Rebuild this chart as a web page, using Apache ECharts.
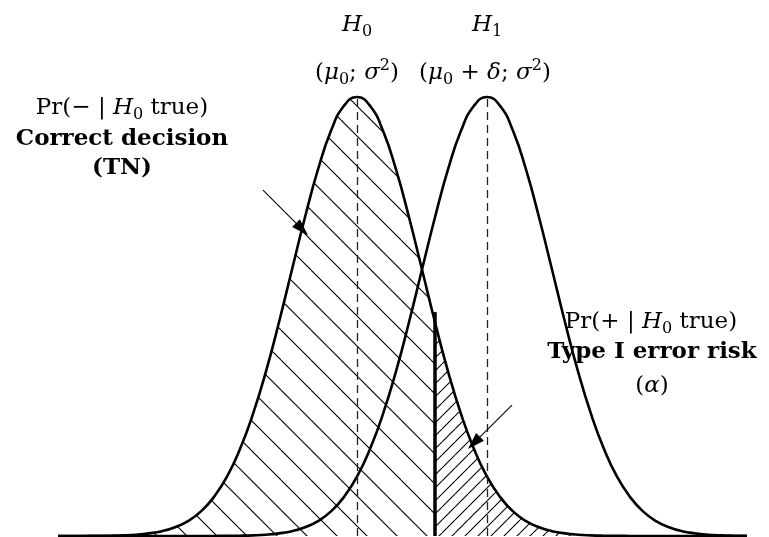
<!DOCTYPE html>
<html>
<head>
<meta charset="utf-8">
<script src="https://cdn.jsdelivr.net/npm/echarts/dist/echarts.min.js"></script>
<style>
  html, body { margin: 0; padding: 0; background: #fff; }
  #chart { width: 769px; height: 537px; }
</style>
</head>
<body>
<div id="chart"></div>
<script>
// x in units of sigma, measured from mu0
const xValues = [-4.6, -4.4, -4.2, -4.0, -3.8, -3.6, -3.4, -3.2, -3.0, -2.8, -2.6, -2.4, -2.2, -2.0, -1.8, -1.6, -1.4, -1.2, -1.0, -0.8, -0.6, -0.4, -0.2,
  0, 0.2, 0.4, 0.6, 0.8, 1.0, 1.2, 1.4, 1.6, 1.8, 2.0, 2.2, 2.4, 2.6, 2.8, 3.0, 3.2, 3.4, 3.6, 3.8, 4.0, 4.2, 4.4, 4.6, 4.8, 5.0, 5.2, 5.4, 5.6, 5.8, 6.0]
// curve heights relative to the peak
const h0Density = [0, 0, 0.0001, 0.0003, 0.0007, 0.0015, 0.003, 0.006, 0.011, 0.020, 0.034, 0.056, 0.089, 0.135, 0.198, 0.278, 0.375, 0.487, 0.607, 0.726, 0.835, 0.923, 0.980,
  1, 0.980, 0.923, 0.835, 0.726, 0.607, 0.487, 0.375, 0.278, 0.198, 0.135, 0.089, 0.056, 0.034, 0.020, 0.011, 0.006, 0.003, 0.0015, 0.0007, 0.0003, 0.0001,
  0, 0, 0, 0, 0, 0, 0, 0, 0]
const h1Density = [0, 0, 0, 0, 0, 0, 0, 0, 0, 0, 0, 0,
  0.0001, 0.0003, 0.0007, 0.0015, 0.003, 0.006, 0.011, 0.020, 0.034, 0.056, 0.089, 0.135, 0.198, 0.278, 0.375, 0.487, 0.607, 0.726, 0.835, 0.923, 0.980,
  1, 0.980, 0.923, 0.835, 0.726, 0.607, 0.487, 0.375, 0.278, 0.198, 0.135, 0.089, 0.056, 0.034, 0.020, 0.011, 0.006, 0.003, 0.0015, 0.0007, 0.0003]
const means = [0, 2] // H0, H1
const thresholdX = 1.2
const thresholdTop = 0.51

const h0Points = xValues.map((x, i) => [x, h0Density[i]])
const h1Points = xValues.map((x, i) => [x, h1Density[i]])
const h0Left = h0Points.filter(p => p[0] <= thresholdX + 1e-9)
const h0Right = h0Points.filter(p => p[0] >= thresholdX - 1e-9)

// hatch tiles
function hatch(size, dir, off) {
  const c = document.createElement('canvas')
  c.width = size
  c.height = size
  const g = c.getContext('2d')
  g.strokeStyle = '#000'
  g.lineWidth = 1.1
  g.beginPath()
  for (let k = -2; k <= 2; k++) {
    const x0 = k * size + off
    if (dir === 'back') {
      g.moveTo(x0, 0)
      g.lineTo(x0 + size, size)
    } else {
      g.moveTo(x0, size)
      g.lineTo(x0 + size, 0)
    }
  }
  g.stroke()
  return c
}

const chart = echarts.init(document.getElementById('chart'))
const black = '#000'
const serif = '"DejaVu Serif", "Liberation Serif", serif'

function txt(x, y, text) {
  return {
    type: 'text',
    x: x,
    y: y,
    style: {
      text: text,
      rich: rich,
      fill: black,
      align: 'center',
      verticalAlign: 'middle',
      textAlign: 'center',
      textVerticalAlign: 'middle'
    }
  }
}
const rich = {
  n: { fontFamily: serif, fontSize: 23, lineHeight: 30, color: black },
  i: { fontFamily: serif, fontSize: 23, lineHeight: 30, fontStyle: 'italic', color: black },
  b: { fontFamily: serif, fontSize: 23, lineHeight: 30, fontWeight: 'bold', color: black },
  sub: { fontFamily: serif, fontSize: 16, verticalAlign: 'bottom', color: black },
  sup: { fontFamily: serif, fontSize: 16, verticalAlign: 'top', color: black }
}

chart.setOption({
  animation: false,
  grid: { left: 58, right: 22, top: 97, bottom: 1 },
  xAxis: { type: 'value', min: -4.6, max: 6, show: false },
  yAxis: { type: 'value', min: 0, max: 1, show: false },
  series: [
    {
      type: 'line',
      data: h0Left,
      smooth: true,
      symbol: 'none',
      lineStyle: { width: 0 },
      areaStyle: { color: { image: hatch(30, 'back', 11), repeat: 'repeat' }, opacity: 1 },
      z: 1
    },
    {
      type: 'line',
      data: h0Right,
      smooth: true,
      symbol: 'none',
      lineStyle: { width: 0 },
      areaStyle: { color: { image: hatch(13, 'fwd', 0), repeat: 'repeat' }, opacity: 1 },
      z: 1
    },
    {
      name: 'H0',
      type: 'line',
      data: h0Points,
      smooth: true,
      symbol: 'none',
      clip: false,
      lineStyle: { color: black, width: 2.6 },
      z: 3,
      markLine: {
        silent: true,
        symbol: 'none',
        label: { show: false },
        lineStyle: { color: '#222', width: 1.3, type: [8, 5] },
        data: [
          [{ coord: [means[0], 0] }, { coord: [means[0], 1] }],
          [{ coord: [means[1], 0] }, { coord: [means[1], 1] }]
        ]
      }
    },
    {
      name: 'H1',
      type: 'line',
      data: h1Points,
      smooth: true,
      symbol: 'none',
      clip: false,
      lineStyle: { color: black, width: 2.6 },
      z: 3,
      markLine: {
        silent: true,
        label: { show: false },
        data: [
          [{ coord: [thresholdX, 0], symbol: 'none' }, { coord: [thresholdX, thresholdTop], symbol: 'none', lineStyle: { color: black, width: 3.5, type: 'solid' } }],
          [{ coord: [-1.446, 0.788], symbol: 'none' }, { coord: [-0.846, 0.699], symbol: 'triangle', symbolSize: [11, 17], lineStyle: { color: black, width: 1.1, type: 'solid' } }],
          [{ coord: [2.385, 0.298], symbol: 'none' }, { coord: [1.80, 0.212], symbol: 'triangle', symbolSize: [11, 17], lineStyle: { color: black, width: 1.1, type: 'solid' } }]
        ]
      }
    }
  ],
  graphic: [
    txt(357, 25, '{i|H}{sub|0}'),
    txt(357, 73, '{n|(}{i|μ}{sub|0}{n|; }{i|σ}{sup|2}{n|)}'),
    txt(487, 25, '{i|H}{sub|1}'),
    txt(485, 73, '{n|(}{i|μ}{sub|0}{n| + }{i|δ}{n|; }{i|σ}{sup|2}{n|)}'),
    txt(122, 108, '{n|Pr(− | }{i|H}{sub|0}{n| true)}'),
    txt(122, 139, '{b|Correct decision}'),
    txt(122, 168, '{b|(TN)}'),
    txt(651, 322, '{n|Pr(+ | }{i|H}{sub|0}{n| true)}'),
    txt(652, 352, '{b|Type I error risk}'),
    txt(652, 386, '{n|(}{i|α}{n|)}')
  ]
})
</script>
</body>
</html>
